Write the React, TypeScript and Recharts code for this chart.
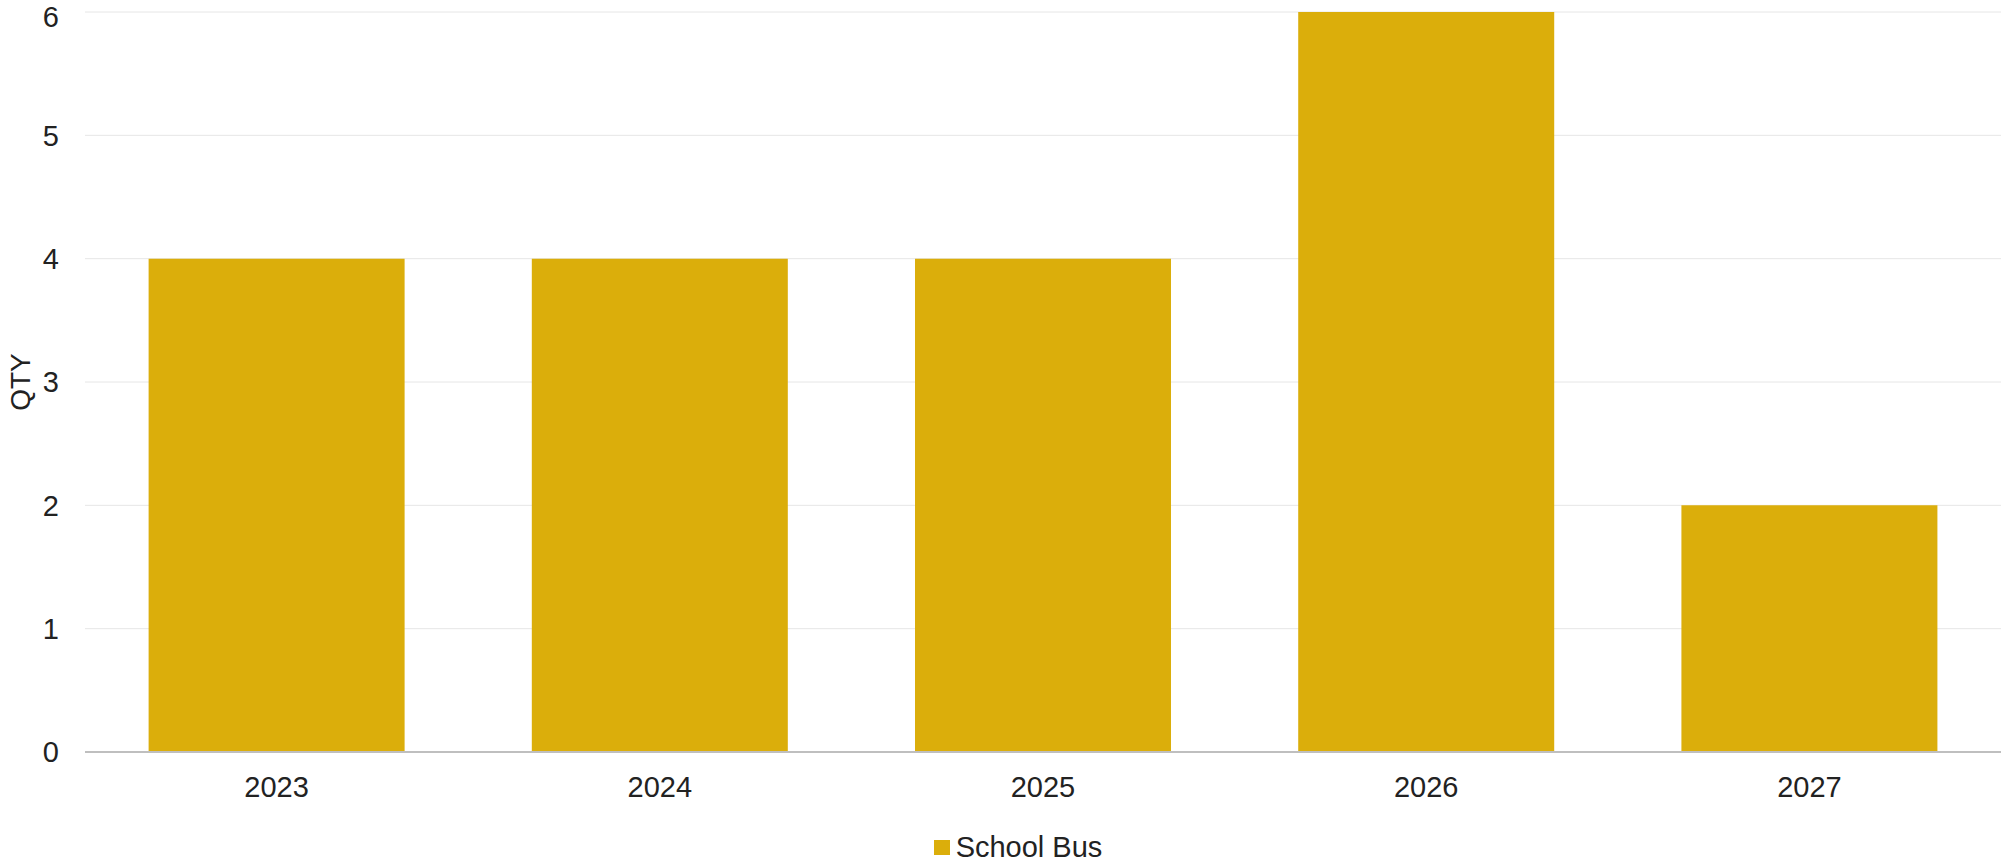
import { BarChart, Bar, XAxis, YAxis, CartesianGrid, Legend } from 'recharts'

const years = ['2023', '2024', '2025', '2026', '2027']
const schoolBus = [4, 4, 4, 6, 2]
const yTicks = [0, 1, 2, 3, 4, 5, 6]

const data = years.map((year, i) => ({ year, schoolBus: schoolBus[i] }))

const FONT = '"Liberation Sans", Arial, sans-serif'
const GOLD = '#DBAE0B'

function BusLegend() {
  return (
    <div
      style={{
        height: 53,
        boxSizing: 'border-box',
        paddingTop: 18,
        paddingLeft: 33,
        display: 'flex',
        alignItems: 'center',
        justifyContent: 'center',
        fontFamily: FONT,
        fontSize: 29,
        color: '#222',
      }}
    >
      <span style={{ width: 16, height: 15, background: GOLD, marginRight: 6, display: 'inline-block' }} />
      <span>School Bus</span>
    </div>
  )
}

export default function App() {
  return (
    <div style={{ position: 'absolute', left: 0, top: 0, background: '#fff' }}>
      <BarChart
        width={2003}
        height={865}
        data={data}
        margin={{ top: 12, right: 2, left: 0, bottom: 0 }}
        barCategoryGap="16.6%"
      >
        <CartesianGrid vertical={false} stroke="#e6e6e6" />
        <XAxis
          dataKey="year"
          height={60}
          tickLine={false}
          tickSize={0}
          tickMargin={24}
          axisLine={{ stroke: '#bfbfbf', strokeWidth: 2 }}
          tick={{ fontSize: 29, fill: '#222', fontFamily: FONT }}
        />
        <YAxis
          width={85}
          domain={[0, 6]}
          ticks={yTicks}
          tickLine={false}
          axisLine={false}
          tickSize={0}
          tickMargin={26}
          tick={{ fontSize: 29, fill: '#222', fontFamily: FONT }}
          label={{
            value: 'QTY',
            angle: -90,
            position: 'insideLeft',
            offset: 20,
            style: { textAnchor: 'middle', fontSize: 28, fill: '#222', fontFamily: FONT },
          }}
        />
        <Legend verticalAlign="bottom" height={53} content={<BusLegend />} wrapperStyle={{ left: 0, width: 2003 }} />
        <Bar dataKey="schoolBus" name="School Bus" fill={GOLD} isAnimationActive={false} />
      </BarChart>
    </div>
  )
}
